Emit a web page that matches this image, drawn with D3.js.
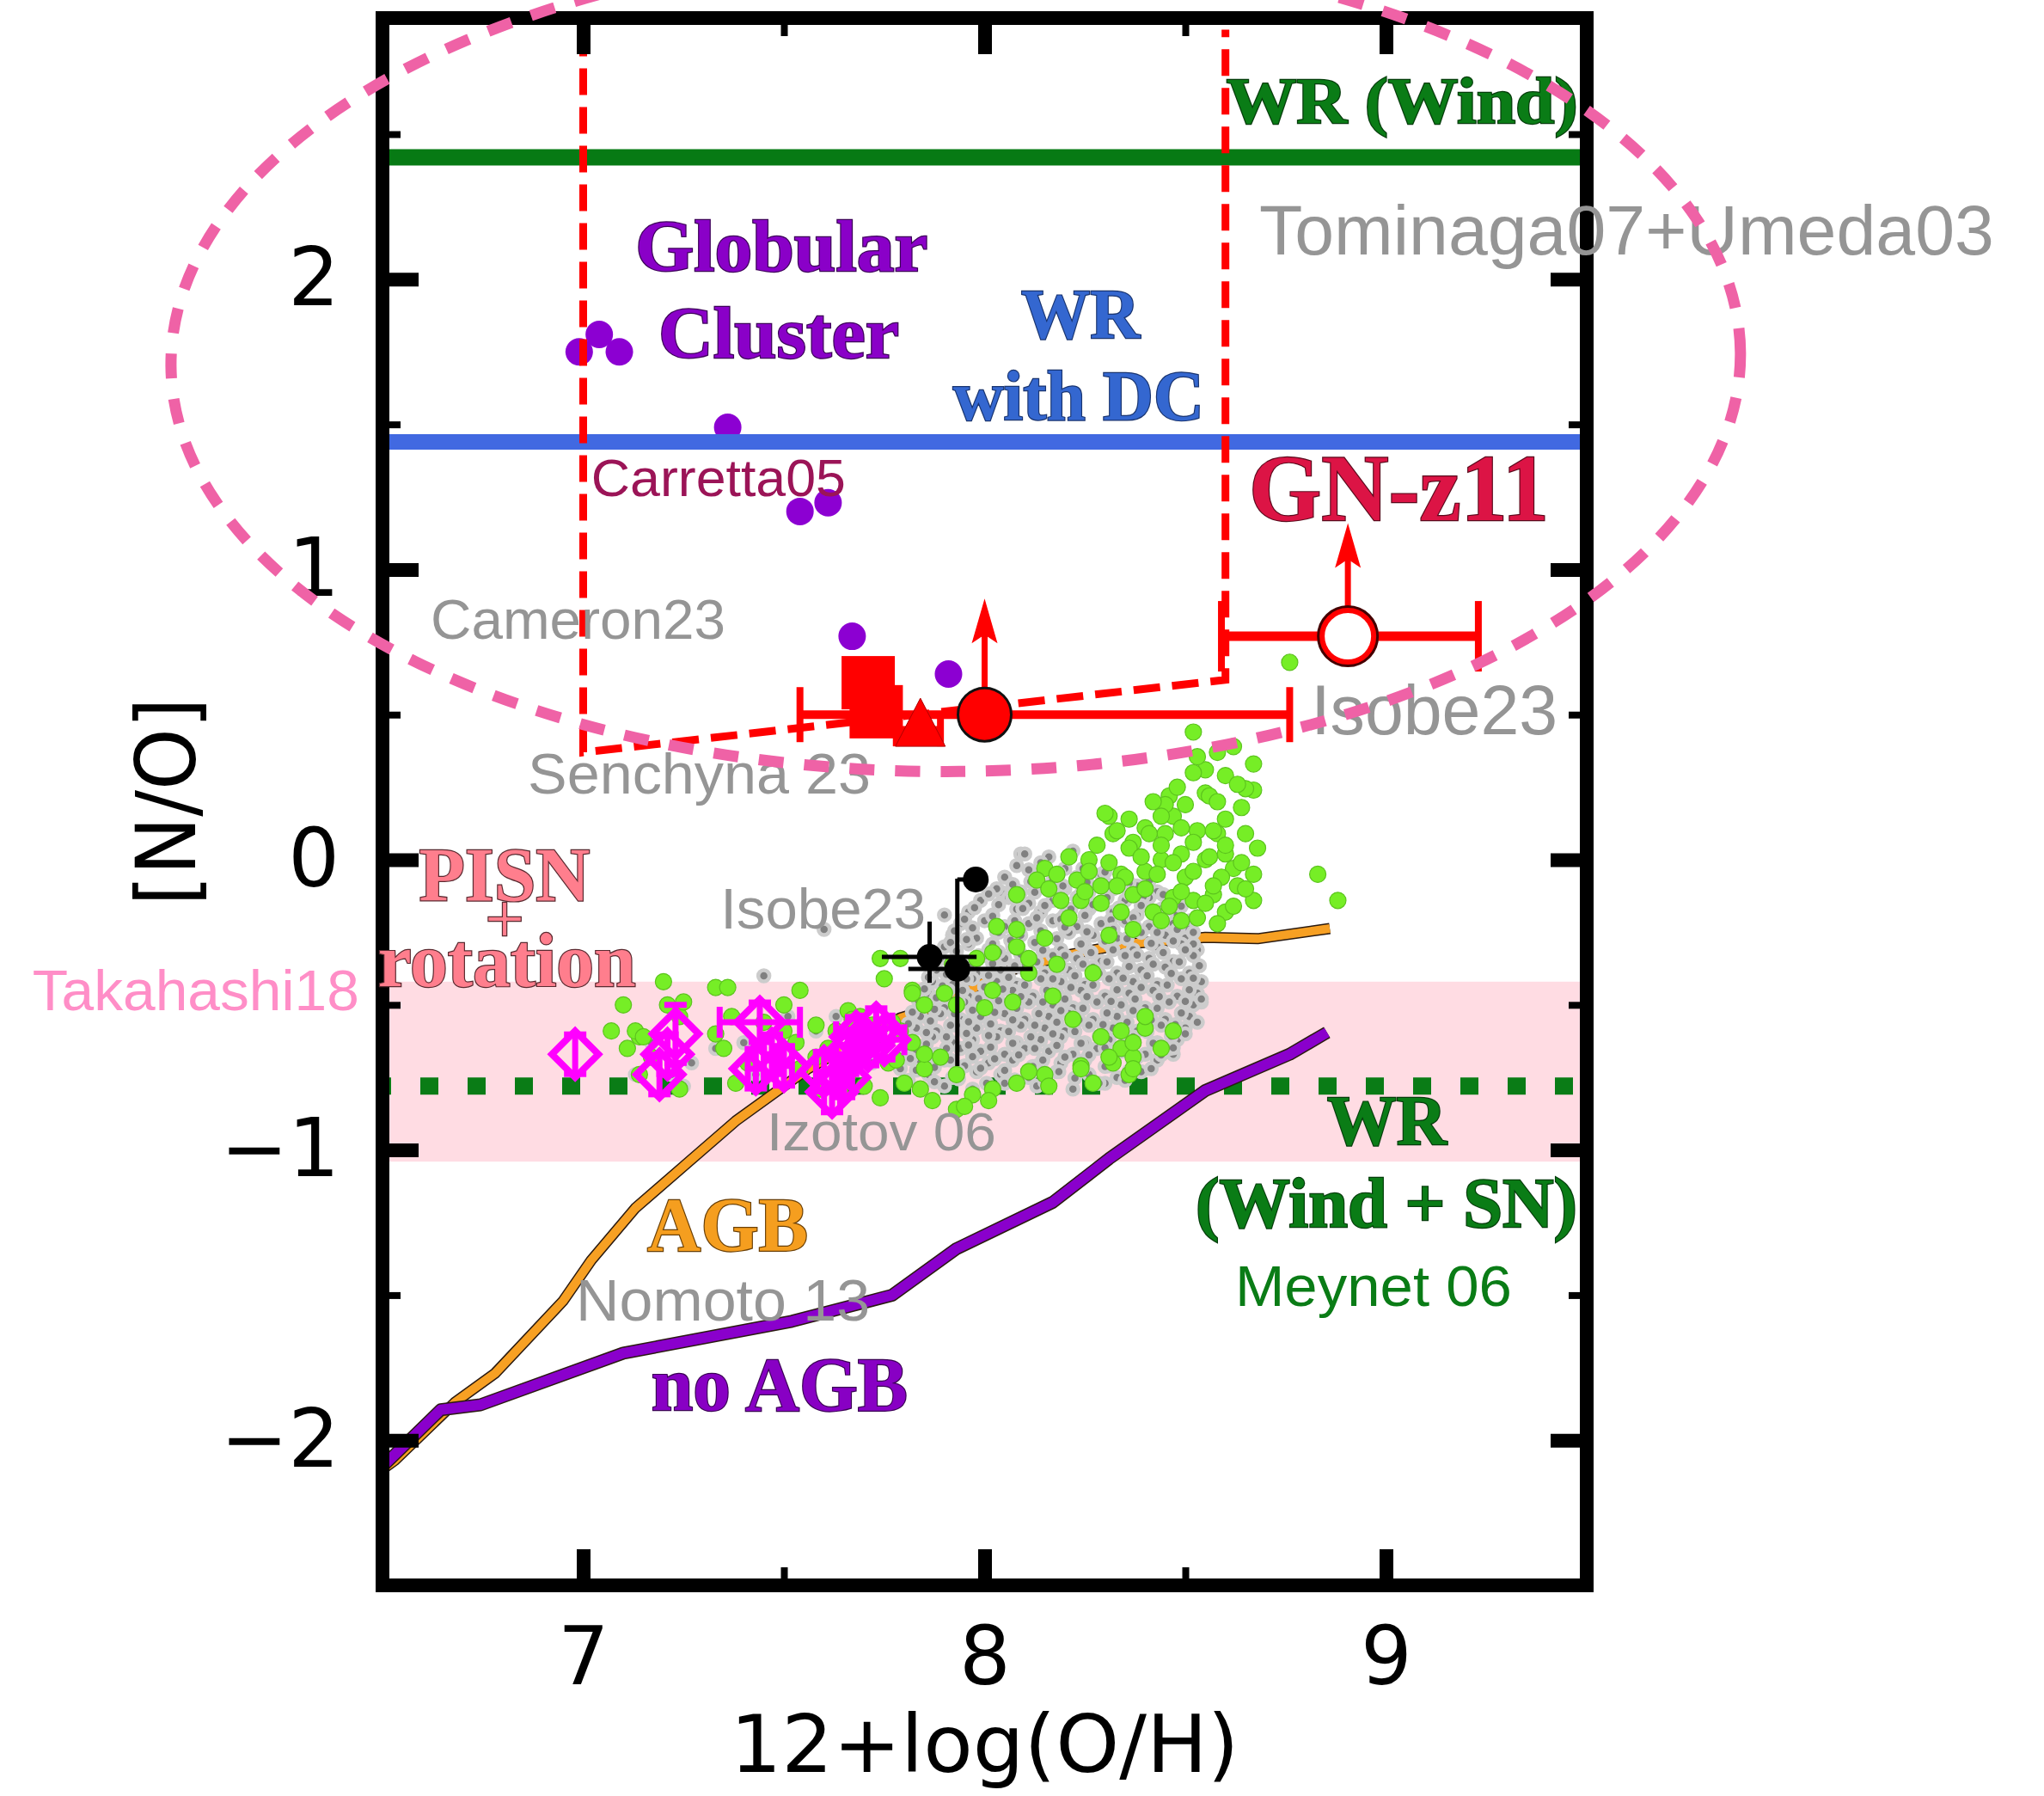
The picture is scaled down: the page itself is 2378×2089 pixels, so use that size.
<!DOCTYPE html>
<html>
<head>
<meta charset="utf-8">
<script src="https://cdn.jsdelivr.net/npm/d3@7"></script>
<style>
  html, body { margin: 0; padding: 0; background: #ffffff; }
  svg { display: block; }
</style>
</head>
<body>
<svg id="chart" width="2378" height="2089"></svg>
<script>
// ---- axis ticks ----
const xTicks = [7, 8, 9];
const xMinorTicks = [7.5, 8.5];
const yTicks = [-2, -1, 0, 1, 2];
const yMinorTicks = [-1.5, -0.5, 0.5, 1.5, 2.5];

// ---- model levels of [N/O] ----
const windLevel = 2.42;      // WR (Wind), Tominaga07+Umeda03
const dcLevel = 1.44;        // WR with direct collapse
const windSnLevel = -0.78;   // WR (Wind + SN), Meynet 06
const pisnBand = [-1.04, -0.42]; // PISN + rotation, Takahashi18

// ---- GN-z11 allowed region (dashed outline) ----
const gnRegion = [[7.0, 2.86], [7.0, 0.37], [8.6, 0.62], [8.6, 2.86]];
// highlighted region (dashed ellipse), in data units
const ellipseRegion = { cx: 7.928, cy: 1.724, rx: 1.955, ry: 1.42 };

// ---- chemical evolution tracks (Nomoto 13) ----
const agbTrack = [
  [6.50, -2.10], [6.53, -2.07], [6.68, -1.87], [6.78, -1.77], [6.95, -1.52],
  [7.02, -1.38], [7.13, -1.20], [7.28, -1.02], [7.38, -0.90], [7.56, -0.72],
  [7.79, -0.545], [7.85, -0.52], [7.91, -0.46], [7.95, -0.46], [8.04, -0.39],
  [8.20, -0.33], [8.35, -0.29], [8.48, -0.276], [8.55, -0.267], [8.68, -0.272],
  [8.86, -0.237]
];
const noAgbTrack = [
  [6.50, -2.09], [6.53, -2.05], [6.645, -1.895], [6.744, -1.878], [7.10, -1.70],
  [7.52, -1.59], [7.77, -1.50], [7.93, -1.34], [8.17, -1.18], [8.31, -1.03],
  [8.55, -0.795], [8.76, -0.67], [8.853, -0.595]
];

// ---- globular clusters (Carretta05) ----
const globularClusters = [
  [6.99, 1.75], [7.04, 1.81], [7.09, 1.75], [7.36, 1.49],
  [7.54, 1.20], [7.61, 1.23], [7.67, 0.77], [7.91, 0.64]
];

// ---- local galaxies (Izotov 06), two samples ----
const greenSample = [
  [8.52, 0.44], [8.62, 0.39], [8.67, 0.33], [8.67, 0.24], [8.55, 0.23], [8.47, 0.15],
  [8.31, 0.15], [8.32, 0.09], [8.37, 0.06], [8.45, 0.09], [8.53, 0.10], [8.58, 0.09],
  [8.49, 0.02], [8.44, 0.00], [8.55, 0.00], [8.60, 0.02], [8.50, -0.06], [8.40, -0.04],
  [8.34, -0.05], [8.26, 0.00], [8.21, 0.01], [8.15, -0.03], [8.23, -0.07], [8.29, -0.09],
  [8.37, -0.12], [8.47, -0.13], [8.52, -0.14], [8.62, -0.03], [8.63, -0.09], [8.57, -0.12],
  [8.83, -0.05], [8.88, -0.14], [8.67, -0.14], [8.42, -0.18], [8.34, -0.18], [8.24, -0.14],
  [8.19, -0.14], [8.13, -0.07], [8.08, -0.12], [8.60, -0.18], [8.49, -0.21], [8.37, -0.24],
  [8.31, -0.26], [8.21, -0.20], [8.76, 0.68], [8.55, 0.31], [8.58, 0.37], [8.46, 0.22],
  [8.40, 0.11], [8.53, 0.355], [8.65, 0.245], [8.56, 0.22], [8.45, 0.19], [8.30, 0.16],
  [8.52, 0.30], [8.60, 0.29], [8.48, 0.25], [8.63, 0.26], [8.42, 0.20], [8.50, 0.19],
  [8.58, 0.20], [8.64, 0.18], [8.36, 0.14], [8.44, 0.15], [8.60, 0.14], [8.33, 0.10],
  [8.41, 0.09], [8.49, 0.11], [8.57, 0.10], [8.65, 0.09], [8.28, 0.05], [8.36, 0.04],
  [8.44, 0.05], [8.52, 0.06], [8.60, 0.05], [8.68, 0.04], [8.31, -0.01], [8.39, 0.01],
  [8.47, -0.01], [8.56, 0.01], [8.64, -0.01], [8.18, -0.05], [8.26, -0.04], [8.35, -0.06],
  [8.43, -0.05], [8.52, -0.04], [8.59, -0.06], [8.67, -0.05], [8.16, -0.10], [8.25, -0.11],
  [8.33, -0.09], [8.40, -0.10], [8.49, -0.11], [8.57, -0.09], [8.65, -0.10], [8.29, -0.15],
  [8.46, -0.16], [8.55, -0.15], [8.62, -0.16], [8.44, -0.21], [8.53, -0.20], [8.58, -0.22],
  [8.03, -0.23], [8.08, -0.24], [8.15, -0.27], [8.02, -0.32], [8.11, -0.39], [8.02, -0.45],
  [7.93, -0.50], [8.18, -0.36], [8.27, -0.39], [7.82, -0.45], [7.85, -0.50], [7.92, -0.36],
  [7.79, -0.34], [7.74, -0.34], [7.75, -0.41], [7.82, -0.46], [7.90, -0.46],
  [7.10, -0.50], [7.20, -0.42], [7.33, -0.44], [7.37, -0.54], [7.33, -0.60], [7.35, -0.65],
  [7.14, -0.61], [7.17, -0.68], [7.14, -0.74], [7.24, -0.54], [7.45, -0.56], [7.50, -0.59],
  [7.53, -0.63], [7.58, -0.68], [7.54, -0.72], [7.63, -0.59], [7.66, -0.52], [7.69, -0.54],
  [7.72, -0.63], [7.76, -0.70], [7.79, -0.59], [7.82, -0.63], [7.85, -0.72], [7.89, -0.68],
  [7.93, -0.74], [7.84, -0.79], [7.80, -0.77], [7.87, -0.83], [7.93, -0.86], [7.97, -0.81],
  [8.02, -0.79], [8.08, -0.77], [8.15, -0.74], [7.66, -0.74], [7.59, -0.79], [7.41, -0.70],
  [7.38, -0.77], [7.24, -0.79], [7.11, -0.65], [7.50, -0.50], [7.54, -0.45], [7.07, -0.59],
  [7.36, -0.44], [7.21, -0.50], [7.25, -0.49], [7.13, -0.59], [7.15, -0.61], [7.58, -0.57],
  [7.67, -0.55], [7.72, -0.57], [7.77, -0.56], [7.61, -0.65], [7.72, -0.64], [7.78, -0.69],
  [7.85, -0.67], [7.95, -0.85], [8.01, -0.83], [8.36, -0.74], [8.32, -0.70], [8.11, -0.73],
  [8.24, -0.71], [8.00, -0.51], [8.07, -0.49], [8.17, -0.47], [8.11, -0.34], [8.08, -0.30],
  [7.98, -0.34], [8.34, -0.65], [8.37, -0.68], [8.29, -0.61], [8.22, -0.55], [8.40, -0.58],
  [8.16, -0.78], [8.24, -0.72], [8.31, -0.68], [8.37, -0.63], [8.44, -0.65], [8.37, -0.72],
  [8.27, -0.77], [8.47, -0.59], [8.40, -0.54], [8.34, -0.59], [7.70, -0.78], [7.74, -0.82],
  [7.64, -0.80], [7.68, -0.69]
];
const graySample = [
  [7.60, -0.24], [7.45, -0.40], [7.90, -0.19], [8.04, -0.11], [8.09, 0.02], [8.51, -0.21],
  [8.54, -0.49], [8.47, -0.67], [7.51, -0.54], [7.63, -0.54], [7.42, -0.64], [7.25, -0.78],
  [7.13, -0.74], [7.81, -0.76], [7.58, -0.59], [7.53, -0.72], [7.48, -0.68], [7.43, -0.74],
  [7.40, -0.63], [7.33, -0.65], [7.27, -0.70], [7.22, -0.74], [7.17, -0.63], [7.69, -0.59],
  [7.66, -0.65], [7.72, -0.70], [7.63, -0.70], [7.76, -0.63], [7.79, -0.72],
  [8.10, 0.02], [8.16, 0.01], [8.22, 0.03],
  [8.08, -0.02], [8.14, -0.01], [8.20, -0.03], [8.26, -0.02], [8.31, -0.01],
  [8.05, -0.06], [8.12, -0.05], [8.17, -0.07], [8.23, -0.06], [8.29, -0.05], [8.35, -0.07],
  [8.03, -0.10], [8.09, -0.11], [8.14, -0.09], [8.20, -0.10], [8.26, -0.11], [8.32, -0.10],
  [8.38, -0.09], [8.43, -0.11],
  [7.99, -0.14], [8.06, -0.13], [8.11, -0.15], [8.17, -0.14], [8.23, -0.13], [8.29, -0.15],
  [8.35, -0.14], [8.41, -0.13], [8.46, -0.15],
  [7.96, -0.18], [8.02, -0.19], [8.08, -0.17], [8.14, -0.18], [8.20, -0.19], [8.26, -0.17],
  [8.32, -0.18], [8.38, -0.19], [8.44, -0.17], [8.48, -0.19],
  [7.94, -0.22], [8.00, -0.21], [8.05, -0.23], [8.11, -0.22], [8.17, -0.21], [8.23, -0.23],
  [8.29, -0.22], [8.35, -0.21], [8.41, -0.23], [8.47, -0.22], [8.51, -0.24],
  [7.92, -0.26], [7.98, -0.27], [8.03, -0.25], [8.09, -0.26], [8.15, -0.27], [8.21, -0.25],
  [8.27, -0.26], [8.33, -0.27], [8.39, -0.25], [8.45, -0.26], [8.50, -0.27],
  [7.90, -0.30], [7.96, -0.29], [8.01, -0.31], [8.07, -0.30], [8.13, -0.29], [8.19, -0.31],
  [8.25, -0.30], [8.31, -0.29], [8.37, -0.31], [8.43, -0.30], [8.49, -0.29], [8.53, -0.31],
  [7.89, -0.34], [7.94, -0.35], [8.00, -0.33], [8.05, -0.34], [8.11, -0.35], [8.17, -0.33],
  [8.23, -0.34], [8.29, -0.35], [8.35, -0.33], [8.41, -0.34], [8.47, -0.35], [8.52, -0.33],
  [7.88, -0.38], [7.93, -0.37], [7.98, -0.39], [8.04, -0.38], [8.09, -0.37], [8.15, -0.39],
  [8.21, -0.38], [8.27, -0.37], [8.33, -0.39], [8.39, -0.38], [8.45, -0.37], [8.51, -0.39],
  [7.87, -0.42], [7.92, -0.43], [7.97, -0.41], [8.03, -0.42], [8.08, -0.43], [8.14, -0.41],
  [8.19, -0.42], [8.25, -0.43], [8.31, -0.41], [8.37, -0.42], [8.43, -0.43], [8.49, -0.41],
  [8.54, -0.42],
  [7.86, -0.46], [7.91, -0.45], [7.96, -0.47], [8.01, -0.46], [8.07, -0.45], [8.12, -0.47],
  [8.18, -0.46], [8.24, -0.45], [8.30, -0.47], [8.36, -0.46], [8.42, -0.45], [8.48, -0.47],
  [8.53, -0.46],
  [7.85, -0.50], [7.90, -0.51], [7.95, -0.49], [8.00, -0.50], [8.06, -0.51], [8.11, -0.49],
  [8.17, -0.50], [8.22, -0.51], [8.28, -0.49], [8.34, -0.50], [8.40, -0.51], [8.46, -0.49],
  [8.52, -0.50],
  [7.84, -0.54], [7.89, -0.53], [7.94, -0.55], [7.99, -0.54], [8.05, -0.53], [8.10, -0.55],
  [8.16, -0.54], [8.21, -0.53], [8.27, -0.55], [8.33, -0.54], [8.39, -0.53], [8.45, -0.55],
  [8.51, -0.54],
  [7.83, -0.58], [7.88, -0.59], [7.93, -0.57], [7.98, -0.58], [8.04, -0.59], [8.09, -0.57],
  [8.15, -0.58], [8.20, -0.59], [8.26, -0.57], [8.32, -0.58], [8.38, -0.59], [8.44, -0.57],
  [8.50, -0.58],
  [7.82, -0.62], [7.87, -0.61], [7.92, -0.63], [7.97, -0.62], [8.03, -0.61], [8.08, -0.63],
  [8.14, -0.62], [8.19, -0.61], [8.25, -0.63], [8.31, -0.62], [8.37, -0.61], [8.43, -0.63],
  [8.48, -0.62],
  [7.83, -0.66], [7.88, -0.67], [7.94, -0.65], [7.99, -0.66], [8.05, -0.67], [8.10, -0.65],
  [8.16, -0.66], [8.22, -0.67], [8.28, -0.65], [8.34, -0.66], [8.40, -0.67], [8.46, -0.65],
  [7.84, -0.70], [7.90, -0.69], [7.95, -0.71], [8.01, -0.70], [8.07, -0.69], [8.13, -0.71],
  [8.19, -0.70], [8.25, -0.69], [8.31, -0.71], [8.37, -0.70], [8.43, -0.69],
  [7.86, -0.74], [7.92, -0.75], [7.98, -0.73], [8.04, -0.74], [8.11, -0.75], [8.18, -0.73],
  [8.26, -0.74], [8.33, -0.75], [8.39, -0.73],
  [7.90, -0.78], [7.97, -0.79], [8.05, -0.77], [8.13, -0.78], [8.22, -0.79], [8.30, -0.77],
  [8.11, -0.035], [8.185, -0.045], [8.245, -0.03], [8.30, -0.042],
  [8.07, -0.085], [8.115, -0.075], [8.195, -0.09], [8.255, -0.078], [8.31, -0.088], [8.36, -0.08], [8.41, -0.072],
  [8.01, -0.118], [8.07, -0.128], [8.125, -0.112], [8.185, -0.125], [8.24, -0.118], [8.305, -0.13],
  [8.36, -0.115], [8.395, -0.127], [8.445, -0.12],
  [7.975, -0.165], [8.035, -0.155], [8.095, -0.168], [8.15, -0.158], [8.215, -0.17], [8.27, -0.155],
  [8.335, -0.166], [8.39, -0.158], [8.455, -0.17], [8.49, -0.16],
  [7.95, -0.205], [8.02, -0.195], [8.075, -0.21], [8.13, -0.20], [8.19, -0.205], [8.25, -0.192],
  [8.315, -0.207], [8.37, -0.20], [8.43, -0.193], [8.49, -0.21],
  [7.925, -0.245], [7.97, -0.235], [8.035, -0.25], [8.085, -0.238], [8.14, -0.245], [8.20, -0.232],
  [8.255, -0.248], [8.32, -0.24], [8.375, -0.232], [8.43, -0.25], [8.48, -0.24], [8.52, -0.25],
  [7.915, -0.285], [7.955, -0.275], [8.02, -0.29], [8.065, -0.278], [8.125, -0.285], [8.18, -0.272],
  [8.24, -0.29], [8.30, -0.28], [8.355, -0.272], [8.415, -0.288], [8.47, -0.28], [8.52, -0.29],
  [7.875, -0.325], [7.93, -0.315], [7.985, -0.33], [8.035, -0.318], [8.09, -0.325], [8.145, -0.312],
  [8.20, -0.33], [8.265, -0.32], [8.32, -0.31], [8.38, -0.328], [8.445, -0.32], [8.50, -0.31],
  [7.865, -0.365], [7.915, -0.355], [7.965, -0.37], [8.02, -0.358], [8.075, -0.366], [8.13, -0.352],
  [8.19, -0.37], [8.245, -0.36], [8.305, -0.352], [8.36, -0.368], [8.42, -0.36], [8.485, -0.352],
  [8.535, -0.365],
  [7.86, -0.405], [7.905, -0.395], [7.955, -0.41], [8.01, -0.398], [8.06, -0.405], [8.115, -0.392],
  [8.17, -0.41], [8.225, -0.40], [8.285, -0.392], [8.345, -0.408], [8.405, -0.40], [8.465, -0.392],
  [8.52, -0.408],
  [7.85, -0.445], [7.895, -0.435], [7.945, -0.45], [8.00, -0.438], [8.045, -0.446], [8.10, -0.432],
  [8.155, -0.45], [8.215, -0.44], [8.27, -0.432], [8.33, -0.448], [8.39, -0.44], [8.455, -0.432],
  [8.51, -0.448],
  [7.835, -0.485], [7.88, -0.475], [7.935, -0.49], [7.985, -0.478], [8.035, -0.486], [8.09, -0.472],
  [8.145, -0.49], [8.20, -0.48], [8.255, -0.472], [8.315, -0.488], [8.375, -0.48], [8.435, -0.472],
  [8.50, -0.488], [8.54, -0.48],
  [7.82, -0.525], [7.875, -0.515], [7.925, -0.53], [7.97, -0.518], [8.025, -0.526], [8.08, -0.512],
  [8.135, -0.53], [8.19, -0.52], [8.245, -0.512], [8.305, -0.528], [8.37, -0.52], [8.43, -0.512],
  [8.49, -0.528],
  [7.81, -0.565], [7.865, -0.555], [7.915, -0.57], [7.96, -0.558], [8.015, -0.566], [8.07, -0.552],
  [8.125, -0.57], [8.18, -0.56], [8.235, -0.552], [8.295, -0.568], [8.355, -0.56], [8.415, -0.552],
  [8.475, -0.568], [8.53, -0.56],
  [7.80, -0.605], [7.855, -0.595], [7.905, -0.61], [7.955, -0.598], [8.01, -0.606], [8.06, -0.592],
  [8.115, -0.61], [8.17, -0.60], [8.225, -0.592], [8.285, -0.608], [8.345, -0.60], [8.405, -0.592],
  [8.465, -0.608], [8.50, -0.60],
  [7.805, -0.645], [7.855, -0.635], [7.905, -0.65], [7.96, -0.638], [8.015, -0.646], [8.07, -0.632],
  [8.125, -0.65], [8.18, -0.64], [8.24, -0.632], [8.30, -0.648], [8.36, -0.64], [8.42, -0.632],
  [8.47, -0.648],
  [7.815, -0.685], [7.86, -0.675], [7.915, -0.69], [7.97, -0.678], [8.025, -0.686], [8.085, -0.672],
  [8.145, -0.69], [8.20, -0.68], [8.26, -0.672], [8.32, -0.688], [8.38, -0.68], [8.44, -0.672],
  [7.83, -0.725], [7.875, -0.715], [7.935, -0.73], [7.99, -0.718], [8.05, -0.726], [8.12, -0.712],
  [8.185, -0.73], [8.245, -0.72], [8.30, -0.712], [8.36, -0.728], [8.415, -0.72],
  [7.875, -0.765], [7.935, -0.755], [8.005, -0.77], [8.075, -0.758], [8.15, -0.766], [8.225, -0.752],
  [8.285, -0.77], [8.35, -0.76]
];

// ---- low-metallicity galaxies with error bars: [x, y, xerr, yerr] ----
const diamondSample = [
  [6.98, -0.67, 0.00, 0.06], [7.23, -0.60, 0.00, 0.10], [7.21, -0.67, 0.00, 0.05],
  [7.19, -0.74, 0.00, 0.05], [7.44, -0.56, 0.10, 0.04], [7.43, -0.72, 0.02, 0.05],
  [7.47, -0.67, 0.02, 0.04], [7.50, -0.71, 0.02, 0.04], [7.60, -0.73, 0.02, 0.05],
  [7.62, -0.80, 0.02, 0.07], [7.65, -0.75, 0.02, 0.04], [7.66, -0.67, 0.03, 0.04],
  [7.68, -0.61, 0.05, 0.04], [7.71, -0.64, 0.04, 0.04], [7.73, -0.58, 0.04, 0.04],
  [7.75, -0.62, 0.05, 0.00]
];

// ---- Isobe23 local analogues ----
const isobeLocal = [
  { x: 7.863, y: -0.335, xlo: 7.744, xhi: 7.98, ylo: -0.424, yhi: -0.213 },
  { x: 7.932, y: -0.376, xlo: 7.81, xhi: 8.12, ylo: -0.711, yhi: -0.065 },
  { x: 7.978, y: -0.068, xlo: 7.932, xhi: 7.978, ylo: -0.068, yhi: -0.068 }
];

// ---- GN-z11 measurements ----
const gnSquares = [[7.71, 0.61], [7.73, 0.51]];
const gnTriangle = { x: 7.84, y: 0.45, xlo: 7.78, xhi: 7.89 };
const gnCircle = { x: 8.0, y: 0.50, xlo: 7.54, xhi: 8.76, limit: 0.90 };
const gnOpenCircle = { x: 8.905, y: 0.77, xlo: 8.59, xhi: 9.23, limit: 1.16 };

// ---------------------------------------------------------------
const svg = d3.select("#chart");
const x = d3.scaleLinear().domain([6.5, 9.5]).range([445, 1846]);
const y = d3.scaleLinear().domain([-2.5, 2.9]).range([1844, 21]);

const RED = "#ff0000";
const GREEN = "#0a7c16";
const SERIF = "'Liberation Serif','Times New Roman',serif";
const SANS = "'Liberation Sans',Arial,Helvetica,sans-serif";
const AXISFONT = "'DejaVu Sans',Verdana,sans-serif";

svg.append("defs").append("clipPath").attr("id", "plotClip")
  .append("rect")
  .attr("x", x(6.5)).attr("y", y(2.9))
  .attr("width", x(9.5) - x(6.5)).attr("height", y(-2.5) - y(2.9));

const plot = svg.append("g").attr("clip-path", "url(#plotClip)");

// PISN band
plot.append("rect")
  .attr("x", x(6.5)).attr("width", x(9.5) - x(6.5))
  .attr("y", y(pisnBand[1])).attr("height", y(pisnBand[0]) - y(pisnBand[1]))
  .attr("fill", "#ffdce3");

// WR (Wind + SN) dotted level
plot.append("line")
  .attr("x1", x(6.5)).attr("x2", x(9.5))
  .attr("y1", y(windSnLevel)).attr("y2", y(windSnLevel))
  .attr("stroke", GREEN).attr("stroke-width", 20)
  .attr("stroke-dasharray", "21,34").attr("stroke-dashoffset", 11);

// tracks
const line = d3.line().x(d => x(d[0])).y(d => y(d[1]));
function track(data, color, width) {
  plot.append("path").attr("d", line(data)).attr("fill", "none")
    .attr("stroke", "#2a1a10").attr("stroke-width", width + 3)
    .attr("stroke-linejoin", "round");
  plot.append("path").attr("d", line(data)).attr("fill", "none")
    .attr("stroke", color).attr("stroke-width", width)
    .attr("stroke-linejoin", "round");
}
track(agbTrack, "#f7a023", 10);
track(noAgbTrack, "#8a00cc", 12);

// local galaxy samples
plot.append("g").selectAll("circle").data(graySample).join("circle")
  .attr("cx", d => x(d[0])).attr("cy", d => y(d[1])).attr("r", 6.5)
  .attr("fill", "#808080").attr("stroke", "#cccccc").attr("stroke-width", 4.5);
plot.append("g").selectAll("circle").data(greenSample).join("circle")
  .attr("cx", d => x(d[0])).attr("cy", d => y(d[1])).attr("r", 9.5)
  .attr("fill", "#76ee26").attr("stroke", "#5cc41e").attr("stroke-width", 1.2);

// diamonds with error bars
const dg = plot.append("g").attr("stroke", "#ff00ff").attr("fill", "none");
const dR = 27;
diamondSample.forEach(d => {
  const cx = x(d[0]), cy = y(d[1]);
  const ex = d[2] > 0 ? x(d[0] + d[2]) - cx : 0;
  const ey = Math.max(d[3] > 0 ? cy - y(d[1] + d[3]) : 0, dR - 4);
  dg.append("line").attr("x1", cx).attr("x2", cx).attr("y1", cy - ey).attr("y2", cy + ey).attr("stroke-width", 7);
  dg.append("line").attr("x1", cx - 13).attr("x2", cx + 13).attr("y1", cy - ey).attr("y2", cy - ey).attr("stroke-width", 7);
  dg.append("line").attr("x1", cx - 13).attr("x2", cx + 13).attr("y1", cy + ey).attr("y2", cy + ey).attr("stroke-width", 7);
  if (ex > 0) {
    dg.append("line").attr("x1", cx - ex).attr("x2", cx + ex).attr("y1", cy).attr("y2", cy).attr("stroke-width", 7);
    dg.append("line").attr("x1", cx - ex).attr("x2", cx - ex).attr("y1", cy - 18).attr("y2", cy + 18).attr("stroke-width", 7);
    dg.append("line").attr("x1", cx + ex).attr("x2", cx + ex).attr("y1", cy - 18).attr("y2", cy + 18).attr("stroke-width", 7);
  }
  dg.append("path")
    .attr("d", `M${cx},${cy - dR}L${cx + dR},${cy}L${cx},${cy + dR}L${cx - dR},${cy}Z`)
    .attr("stroke-width", 8).attr("stroke-linejoin", "miter");
});

// Isobe23 local analogues
const bg = plot.append("g").attr("stroke", "#000").attr("stroke-width", 5);
isobeLocal.forEach(d => {
  bg.append("line").attr("x1", x(d.xlo)).attr("x2", x(d.xhi)).attr("y1", y(d.y)).attr("y2", y(d.y));
  bg.append("line").attr("x1", x(d.x)).attr("x2", x(d.x)).attr("y1", y(d.ylo)).attr("y2", y(d.yhi));
});
plot.append("g").selectAll("circle").data(isobeLocal).join("circle")
  .attr("cx", d => x(d.x)).attr("cy", d => y(d.y)).attr("r", 15).attr("fill", "#000");

// globular clusters
plot.append("g").selectAll("circle").data(globularClusters).join("circle")
  .attr("cx", d => x(d[0])).attr("cy", d => y(d[1])).attr("r", 16)
  .attr("fill", "#8c00d2");

// model levels
plot.append("line").attr("x1", x(6.5)).attr("x2", x(9.5))
  .attr("y1", y(windLevel)).attr("y2", y(windLevel))
  .attr("stroke", "#077a14").attr("stroke-width", 19);
plot.append("line").attr("x1", x(6.5)).attr("x2", x(9.5))
  .attr("y1", y(dcLevel)).attr("y2", y(dcLevel))
  .attr("stroke", "#4169e1").attr("stroke-width", 18);

// GN-z11 region outline
plot.append("path").attr("d", line(gnRegion)).attr("fill", "none")
  .attr("stroke", RED).attr("stroke-width", 9).attr("stroke-dasharray", "31,14");

// GN-z11 markers
const rg = plot.append("g");
function errX(d, capHalf, width) {
  rg.append("line").attr("x1", x(d.xlo)).attr("x2", x(d.xhi)).attr("y1", y(d.y)).attr("y2", y(d.y))
    .attr("stroke", RED).attr("stroke-width", width);
  [d.xlo, d.xhi].forEach(v => {
    rg.append("line").attr("x1", x(v)).attr("x2", x(v))
      .attr("y1", y(d.y) - capHalf).attr("y2", y(d.y) + capHalf)
      .attr("stroke", RED).attr("stroke-width", 8);
  });
}
function upArrow(xv, fromPx, toVal) {
  const tip = y(toVal), cx = x(xv);
  rg.append("line").attr("x1", cx).attr("x2", cx).attr("y1", fromPx).attr("y2", tip + 40)
    .attr("stroke", RED).attr("stroke-width", 7);
  rg.append("path")
    .attr("d", `M${cx},${tip}L${cx + 15},${tip + 52}L${cx},${tip + 42}L${cx - 15},${tip + 52}Z`)
    .attr("fill", RED);
}
errX(gnCircle, 32, 10);
errX(gnOpenCircle, 41, 11);
errX(gnTriangle, 20, 7);

rg.selectAll("rect.sq").data(gnSquares).join("rect").attr("class", "sq")
  .attr("x", d => x(d[0]) - 31).attr("y", d => y(d[1]) - 31)
  .attr("width", 62).attr("height", 62).attr("fill", RED);

{
  const cx = x(gnTriangle.x), cy = y(gnTriangle.y);
  rg.append("path")
    .attr("d", `M${cx},${cy - 36}L${cx + 29},${cy + 20}L${cx - 29},${cy + 20}Z`)
    .attr("fill", RED).attr("stroke", "#b00000").attr("stroke-width", 1);
}

upArrow(gnCircle.x, y(gnCircle.y) - 30, gnCircle.limit);
rg.append("circle").attr("cx", x(gnCircle.x)).attr("cy", y(gnCircle.y)).attr("r", 31)
  .attr("fill", RED).attr("stroke", "#111").attr("stroke-width", 3);

upArrow(gnOpenCircle.x, y(gnOpenCircle.y) - 30, gnOpenCircle.limit);
rg.append("circle").attr("cx", x(gnOpenCircle.x)).attr("cy", y(gnOpenCircle.y)).attr("r", 31.5)
  .attr("fill", "none").attr("stroke", "#400").attr("stroke-width", 9);
rg.append("circle").attr("cx", x(gnOpenCircle.x)).attr("cy", y(gnOpenCircle.y)).attr("r", 30)
  .attr("fill", "#fff").attr("stroke", RED).attr("stroke-width", 6);

// ---- frame and ticks ----
const axes = svg.append("g");
function tickAxis(gen, values, size, width, transform) {
  const g = axes.append("g").attr("transform", transform)
    .call(gen.tickValues(values).tickSize(-size).tickFormat(""));
  g.select(".domain").remove();
  g.selectAll(".tick line").attr("stroke", "#000").attr("stroke-width", width);
  return g;
}
const frameL = x(6.5), frameR = x(9.5), frameT = y(2.9), frameB = y(-2.5);
tickAxis(d3.axisLeft(y), yTicks, 42, 16, `translate(${frameL},0)`);
tickAxis(d3.axisLeft(y), yMinorTicks, 21, 8, `translate(${frameL},0)`);
tickAxis(d3.axisRight(y), yTicks, 42, 16, `translate(${frameR},0)`);
tickAxis(d3.axisRight(y), yMinorTicks, 21, 8, `translate(${frameR},0)`);
tickAxis(d3.axisTop(x), xTicks, 42, 16, `translate(0,${frameT})`);
tickAxis(d3.axisTop(x), xMinorTicks, 21, 8, `translate(0,${frameT})`);
tickAxis(d3.axisBottom(x), xTicks, 42, 16, `translate(0,${frameB})`);
tickAxis(d3.axisBottom(x), xMinorTicks, 21, 8, `translate(0,${frameB})`);

axes.append("rect")
  .attr("x", frameL).attr("y", frameT)
  .attr("width", frameR - frameL).attr("height", frameB - frameT)
  .attr("fill", "none").attr("stroke", "#000").attr("stroke-width", 16)
  .attr("stroke-linejoin", "miter");

// tick labels
const yLab = axes.append("g").attr("transform", `translate(${frameL},0)`)
  .call(d3.axisLeft(y).tickValues(yTicks).tickSize(0).tickPadding(50).tickFormat(d3.format("d")));
yLab.select(".domain").remove();
yLab.selectAll("text").attr("font-family", AXISFONT).attr("font-size", 94).attr("fill", "#000");

const xLab = axes.append("g").attr("transform", `translate(0,${frameB})`)
  .call(d3.axisBottom(x).tickValues(xTicks).tickSize(0).tickPadding(48).tickFormat(d3.format("d")));
xLab.select(".domain").remove();
xLab.selectAll("text").attr("font-family", AXISFONT).attr("font-size", 94).attr("fill", "#000");

// axis titles
svg.append("text").text("12+log(O/H)")
  .attr("x", (x(7.5) + x(8.5)) / 2).attr("y", 2061)
  .attr("text-anchor", "middle").attr("font-family", AXISFONT).attr("font-size", 92)
  .attr("textLength", 592).attr("lengthAdjust", "spacingAndGlyphs");
svg.append("text").text("[N/O]")
  .attr("transform", `translate(227,${y(0.2)}) rotate(-90)`)
  .attr("text-anchor", "middle").attr("font-family", AXISFONT).attr("font-size", 96)
  .attr("textLength", 242).attr("lengthAdjust", "spacingAndGlyphs");

// ---- annotations ----
const labels = svg.append("g");
function label(t, xv, yv, o) {
  const el = labels.append("text").text(t)
    .attr("x", x(xv)).attr("y", y(yv))
    .attr("font-family", o.serif ? SERIF : SANS)
    .attr("font-weight", o.serif && !o.light ? "bold" : "normal")
    .attr("font-size", o.size)
    .attr("fill", o.fill)
    .attr("text-anchor", o.anchor || "start");
  if (o.len) el.attr("textLength", o.len).attr("lengthAdjust", "spacingAndGlyphs");
  if (o.outline) el.attr("stroke", o.outline).attr("stroke-width", 2.4).attr("paint-order", "stroke");
  return el;
}
const GRAY = "#959595";
label("WR (Wind)", 9.04, 2.538, { serif: true, size: 76, fill: "#0a7c16", outline: "#063d0c", anchor: "middle", len: 409 });
label("Tominaga07+Umeda03", 8.684, 2.085, { size: 81, fill: GRAY, len: 855 });
label("Globular", 7.494, 2.029, { serif: true, size: 84, fill: "#8a00c8", outline: "#3c0058", anchor: "middle", len: 340 });
label("Cluster", 7.487, 1.730, { serif: true, size: 84, fill: "#8a00c8", outline: "#3c0058", anchor: "middle", len: 280 });
label("WR", 8.239, 1.798, { serif: true, size: 82, fill: "#3467d0", outline: "#1a3570", anchor: "middle", len: 138 });
label("with DC", 8.234, 1.517, { serif: true, size: 82, fill: "#3467d0", outline: "#1a3570", anchor: "middle", len: 292 });
label("Carretta05", 7.02, 1.253, { size: 62, fill: "#9b1457", len: 296 });
label("GN-z11", 9.032, 1.170, { serif: true, size: 110, fill: "#dc1445", outline: "#5a0a1c", anchor: "middle", len: 349 });
label("Cameron23", 6.62, 0.761, { size: 65, fill: GRAY, len: 343 });
label("Isobe23", 8.813, 0.432, { size: 81, fill: GRAY, len: 287 });
label("Senchyna 23", 6.862, 0.228, { size: 66, fill: GRAY, len: 399 });
label("PISN", 6.804, -0.139, { serif: true, size: 88, fill: "#ff7e8d", outline: "#5a2a30", anchor: "middle", len: 199 });
label("+", 6.804, -0.285, { serif: true, light: true, size: 80, fill: "#ff7e8d", outline: "#5a2a30", anchor: "middle" });
label("rotation", 6.81, -0.435, { serif: true, size: 88, fill: "#ff7e8d", outline: "#5a2a30", anchor: "middle", len: 300 });
label("Takahashi18", 5.628, -0.518, { size: 66, fill: "#ff8ec7", len: 380 });
label("Isobe23", 7.342, -0.237, { size: 66, fill: GRAY, len: 239 });
label("Izotov 06", 7.457, -1.001, { size: 63, fill: GRAY, len: 267 });
label("AGB", 7.36, -1.345, { serif: true, size: 88, fill: "#f59e1f", outline: "#6a4008", anchor: "middle", len: 187 });
label("Nomoto 13", 6.982, -1.588, { size: 68, fill: GRAY, len: 342 });
label("no AGB", 7.489, -1.896, { serif: true, size: 88, fill: "#8800c4", outline: "#3a0054", anchor: "middle", len: 298 });
label("WR", 9.002, -0.980, { serif: true, size: 82, fill: "#0a7c16", outline: "#063d0c", anchor: "middle", len: 139 });
label("(Wind + SN)", 9.001, -1.265, { serif: true, size: 82, fill: "#0a7c16", outline: "#063d0c", anchor: "middle", len: 444 });
label("Meynet 06", 8.624, -1.537, { size: 67, fill: "#0a7c16", len: 322 });

// highlighted region
{
  const e = ellipseRegion;
  const cx = x(e.cx), cy = y(e.cy);
  svg.append("ellipse")
    .attr("cx", cx).attr("cy", cy)
    .attr("rx", x(e.cx + e.rx) - cx).attr("ry", cy - y(e.cy + e.ry))
    .attr("transform", `rotate(-0.5,${cx},${cy})`)
    .attr("fill", "none").attr("stroke", "#ef62a6").attr("stroke-width", 13)
    .attr("stroke-dasharray", "29,24");
}
</script>
</body>
</html>
